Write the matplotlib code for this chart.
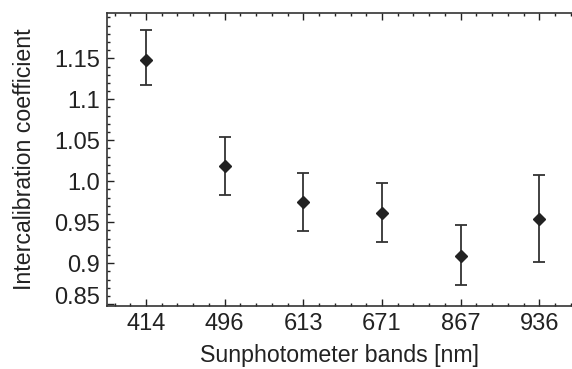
import matplotlib
matplotlib.use("Agg")
import matplotlib.pyplot as plt
import matplotlib.transforms as mtransforms
from matplotlib.ticker import MultipleLocator, FixedLocator, FixedFormatter
import numpy as np

plt.rcParams['font.family'] = ['Liberation Sans', 'DejaVu Sans']

# band labels and intercalibration values
bands = ['414', '496', '613', '671', '867', '936']
coef = [1.148, 1.019, 0.975, 0.961, 0.909, 0.954]
err_low = [1.117, 0.983, 0.939, 0.926, 0.873, 0.901]
err_high = [1.184, 1.054, 1.010, 0.998, 0.946, 1.007]

ytick_vals = [0.85, 0.9, 0.95, 1.0, 1.05, 1.1, 1.15]
ytick_labels = ['0.85', '0.9', '0.95', '1.0', '1.05', '1.1', '1.15']

x = np.arange(1, len(bands) + 1)
coef = np.array(coef)
yerr = np.vstack([coef - np.array(err_low), np.array(err_high) - coef])

fig = plt.figure(figsize=(5.72, 3.69), dpi=100)
ax = fig.add_axes([0.1865, 0.1715, 0.8135, 0.7925])

ax.errorbar(x, coef, yerr=yerr, fmt='D', color='#222222', ecolor='#333333',
            markersize=6, elinewidth=1.3, capsize=4, capthick=1.3)

ax.set_xlim(0.5, 6.415)
ax.set_ylim(0.848, 1.205)

ax.set_xticks(x)
ax.set_xticklabels(bands)
ax.xaxis.set_minor_locator(MultipleLocator(0.2))
ax.yaxis.set_major_locator(FixedLocator(ytick_vals))
ax.yaxis.set_major_formatter(FixedFormatter(ytick_labels))
ax.yaxis.set_minor_locator(MultipleLocator(0.01))

ax.tick_params(which='both', direction='in', top=True, right=False,
               labelsize=17, colors='#222222', width=1)
ax.tick_params(which='major', length=5, pad=5)
ax.tick_params(which='minor', length=2.5)
ax.spines['right'].set_visible(False)
for s in ['left', 'bottom', 'top']:
    ax.spines[s].set_linewidth(1.2)
    ax.spines[s].set_color('#333333')

# lowest label sits a bit above its tick so it clears the frame corner
lbl = ax.get_yticklabels()[0]
lbl.set_transform(lbl.get_transform() +
                  mtransforms.ScaledTranslation(0, 6 / 72, fig.dpi_scale_trans))

ax.set_xlabel('Sunphotometer bands [nm]', fontsize=16.7, color='#222222', labelpad=7)
ax.set_ylabel('Intercalibration coefficient', fontsize=16.7, color='#222222', labelpad=13)

fig.savefig('out.png', dpi=100)
